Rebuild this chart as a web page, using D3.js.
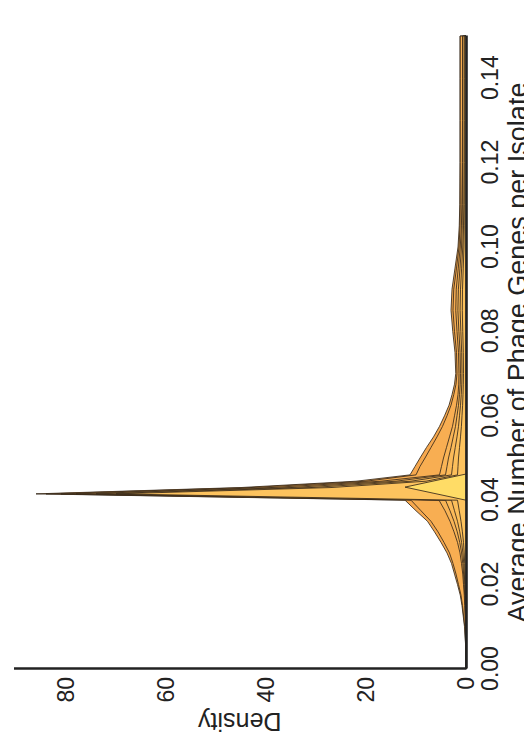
<!DOCTYPE html>
<html>
<head>
<meta charset="utf-8">
<script src="https://cdn.jsdelivr.net/npm/d3@7"></script>
<style>
  html, body { margin: 0; padding: 0; background: #ffffff; }
  svg { display: block; }
  text { font-family: "Liberation Sans", Arial, Helvetica, sans-serif; fill: #222; }
</style>
</head>
<body>
<svg id="chart" width="524" height="744"></svg>
<script>
// Evaluation grid for the density curves (average phage genes per isolate)
const gridX = [0, 0.005, 0.01, 0.015, 0.0175, 0.02, 0.0225, 0.025, 0.0275, 0.03, 0.0325, 0.035, 0.0375,
  0.040, 0.0415, 0.043, 0.0445, 0.046, 0.048, 0.05, 0.0525, 0.055, 0.0575, 0.06, 0.0625, 0.065, 0.0675,
  0.07, 0.075, 0.08, 0.085, 0.09, 0.095, 0.10, 0.105, 0.11, 0.12, 0.13, 0.14, 0.15];

// Density of each group, outermost first
const densityA = [0, 0.05, 0.3, 0.8, 1.15, 1.7, 2.3, 2.9, 3.8, 5.0, 6.3, 7.7, 10.0,
  12.2, 86, 45, 22, 11.2, 10.2, 9.2, 7.9, 6.5, 5.3, 4.3, 3.4, 2.8, 2.3,
  2.05, 2.2, 2.65, 3.0, 2.8, 2.2, 1.6, 1.35, 1.25, 1.2, 1.2, 1.2, 1.2];
const densityB = [0, 0.04, 0.25, 0.7, 1.0, 1.5, 2.0, 2.6, 3.3, 4.4, 5.6, 7.0, 9.0,
  11.0, 84, 43, 20, 10.0, 9.2, 8.2, 7.0, 5.8, 4.7, 3.8, 3.0, 2.45, 2.0,
  1.8, 1.9, 2.3, 2.6, 2.45, 1.9, 1.4, 1.2, 1.15, 1.15, 1.15, 1.15, 1.15];
const densityC = [0, 0.02, 0.1, 0.25, 0.35, 0.5, 0.65, 0.9, 1.2, 1.7, 2.4, 3.2, 4.2,
  5.4, 81, 39, 17, 5.3, 4.9, 4.5, 3.9, 3.3, 2.7, 2.3, 1.9, 1.6, 1.45,
  1.4, 1.5, 1.8, 2.05, 1.95, 1.55, 1.15, 0.92, 0.82, 0.74, 0.7, 0.7, 0.7];
const densityD = [0, 0.015, 0.07, 0.18, 0.26, 0.36, 0.48, 0.65, 0.88, 1.25, 1.75, 2.4, 3.2,
  4.1, 78, 35, 14, 4.1, 3.8, 3.5, 3.0, 2.55, 2.1, 1.8, 1.5, 1.3, 1.15,
  1.1, 1.18, 1.42, 1.62, 1.52, 1.2, 0.9, 0.76, 0.72, 0.69, 0.68, 0.68, 0.68];
const densityE = [0, 0.01, 0.05, 0.12, 0.18, 0.25, 0.33, 0.45, 0.62, 0.88, 1.25, 1.7, 2.3,
  2.9, 74, 31, 11, 2.9, 2.7, 2.5, 2.15, 1.8, 1.5, 1.3, 1.1, 0.95, 0.85,
  0.8, 0.86, 1.03, 1.18, 1.1, 0.87, 0.65, 0.5, 0.42, 0.37, 0.35, 0.35, 0.35];
const densityF = [0, 0.005, 0.03, 0.07, 0.1, 0.14, 0.19, 0.26, 0.36, 0.5, 0.72, 1.0, 1.35,
  1.7, 70, 27, 8, 1.7, 1.6, 1.5, 1.3, 1.1, 0.92, 0.8, 0.68, 0.6, 0.54,
  0.5, 0.54, 0.65, 0.74, 0.7, 0.55, 0.41, 0.36, 0.34, 0.33, 0.33, 0.33, 0.33];

// Narrow group concentrated around 0.043
const peakX = [0.040, 0.0431, 0.0462];
const peakDensity = [0, 12.2, 0];

const layerColors = ["#f6a84e", "#f8ae52", "#f9b456", "#fbba59", "#fcbf5b", "#fdc35e"];
const peakColor = "#ffdc66";

const xTicks = [0, 0.02, 0.04, 0.06, 0.08, 0.10, 0.12, 0.14];
const densityTicks = [0, 20, 40, 60, 80];

const xTitle = "Average Number of Phage Genes per Isolate";
const yTitle = "Density";

// The plot is laid out in a 744 x 524 frame, then turned a quarter turn
const svg = d3.select("#chart");
const g = svg.append("g").attr("transform", "translate(0,744) rotate(-90)");

const x = d3.scaleLinear().domain([0, 0.15]).range([75, 708]);
const y = d3.scaleLinear().domain([0, 90.5]).range([466, 13.5]);

const area = d3.area()
  .x(d => x(d[0]))
  .y0(y(0))
  .y1(d => y(d[1]))
  .curve(d3.curveLinear);

const layers = [densityA, densityB, densityC, densityD, densityE, densityF];
layers.forEach((vals, i) => {
  g.append("path")
    .datum(gridX.map((v, j) => [v, vals[j]]))
    .attr("d", area)
    .attr("fill", layerColors[i])
    .attr("stroke", "#35281a")
    .attr("stroke-width", 0.85)
    .attr("stroke-linejoin", "round");
});

g.append("path")
  .datum(peakX.map((v, j) => [v, peakDensity[j]]))
  .attr("d", area)
  .attr("fill", peakColor)
  .attr("stroke", "#35281a")
  .attr("stroke-width", 0.85);

// Axes without tick marks
const xAxis = g.append("g")
  .attr("transform", `translate(0,${y(0)})`)
  .call(d3.axisBottom(x).tickValues(xTicks).tickFormat(d3.format(".2f")).tickSize(0).tickSizeOuter(0).tickPadding(16));
const yAxis = g.append("g")
  .attr("transform", `translate(${x(0)},0)`)
  .call(d3.axisLeft(y).tickValues(densityTicks).tickSize(0).tickSizeOuter(0).tickPadding(8));

[xAxis, yAxis].forEach(ax => {
  ax.select(".domain").attr("stroke", "#222").attr("stroke-width", 2.6);
  ax.selectAll("text").style("font-size", "23px").attr("fill", "#222");
});

g.append("text")
  .attr("x", (x(0) + x(0.15)) / 2)
  .attr("y", 527)
  .attr("text-anchor", "middle")
  .style("font-size", "27px")
  .text(xTitle);

g.append("text")
  .attr("transform", `translate(31,${(y(0) + y(90.5)) / 2}) rotate(-90)`)
  .attr("text-anchor", "middle")
  .style("font-size", "25px")
  .text(yTitle);
</script>
</body>
</html>
